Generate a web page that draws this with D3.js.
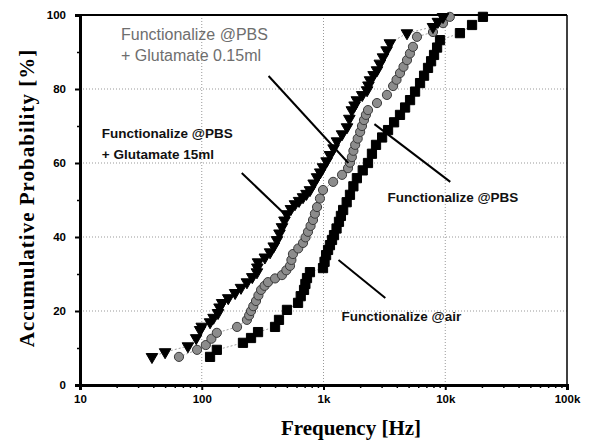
<!DOCTYPE html>
<html>
<head>
<meta charset="utf-8">
<script src="https://cdn.jsdelivr.net/npm/d3@7"></script>
<style>
  body { margin: 0; background: #fff; }
  svg { display: block; }
</style>
</head>
<body>
<svg id="chart" width="592" height="446"></svg>
<script>
// values: frequency [Hz], accumulative probability [%]
var triFreq = [39, 50, 77, 90, 97, 100, 117, 125, 136, 140, 147, 165, 188, 210, 235, 260, 284, 286, 290, 330, 364, 390, 415, 435, 456, 478, 501, 540, 583, 630, 679, 725, 774, 830, 885, 940, 991, 1060, 1130, 1210, 1290, 1420, 1560, 1630, 1710, 1800, 1880, 2080, 2280, 2340, 2410, 2580, 2750, 2900, 3080, 3300, 3510, 4850, 7930, 8700, 9590];
var triProb = [7.6, 8.9, 10.5, 12.7, 14.9, 15.8, 17.0, 18.2, 19.5, 21.0, 22.2, 23.5, 24.9, 26.3, 27.8, 29.2, 30.5, 31.8, 33.2, 34.5, 35.9, 37.5, 39.2, 41.0, 42.7, 44.5, 46.2, 47.6, 48.9, 49.8, 50.8, 51.7, 52.7, 54.5, 56.2, 57.5, 58.9, 60.5, 62.2, 64.0, 65.9, 67.8, 69.7, 72.0, 74.3, 75.6, 77.0, 78.4, 79.7, 81.0, 82.4, 83.8, 85.1, 86.9, 88.6, 90.5, 92.4, 95.1, 96.8, 98.2, 99.5];

var cirFreq = [65, 91.5, 108, 120, 133, 195, 235, 245, 254, 265, 279, 292, 307, 328, 350, 400, 456, 495, 531, 545, 561, 620, 679, 712, 746, 783, 820, 850, 885, 935, 991, 1200, 1420, 1590, 1650, 1710, 1760, 1820, 1910, 2000, 2070, 2150, 2230, 2320, 2750, 3320, 3730, 3980, 4250, 4540, 4850, 5130, 5430, 5860, 7930, 9590, 10900];
var cirProb = [7.6, 9.5, 10.8, 12.5, 14.1, 15.7, 17.6, 18.8, 20.0, 21.3, 22.7, 24.2, 25.7, 26.8, 27.8, 28.8, 29.7, 31.0, 32.2, 33.8, 35.4, 36.9, 38.4, 39.9, 41.4, 43.0, 44.6, 46.3, 48.1, 50.4, 52.7, 54.9, 56.8, 58.6, 60.1, 61.6, 63.3, 64.9, 66.6, 68.4, 70.0, 71.6, 73.0, 74.3, 76.2, 78.4, 80.8, 82.5, 84.3, 86.0, 87.8, 89.6, 91.4, 94.1, 95.4, 97.8, 99.5];

var sqFreq = [117, 133, 218, 254, 290, 400, 431, 501, 618, 650, 692, 710, 732, 774, 991, 1020, 1050, 1090, 1130, 1175, 1220, 1280, 1340, 1390, 1450, 1550, 1650, 1760, 1880, 2100, 2320, 2500, 2700, 3030, 3390, 3800, 4250, 4680, 5140, 5650, 6210, 6700, 7220, 7650, 8090, 8570, 9060, 13200, 16600, 20400];
var sqProb = [7.6, 9.5, 11.4, 12.7, 14.3, 15.7, 17.6, 20.3, 22.2, 24.0, 25.7, 27.3, 28.9, 30.5, 31.6, 33.3, 35.1, 36.5, 37.8, 39.2, 40.5, 42.3, 44.1, 45.7, 47.3, 49.4, 51.4, 53.7, 55.9, 58.0, 60.0, 62.5, 64.9, 66.9, 68.9, 71.0, 73.0, 75.0, 77.0, 79.3, 81.6, 83.6, 85.7, 87.5, 89.2, 91.2, 93.2, 95.1, 97.3, 99.5];

var xTicks = [10, 100, 1000, 10000, 100000];
var xTickLabels = ["10", "100", "1k", "10k", "100k"];
var yTicks = [0, 20, 40, 60, 80, 100];

// annotations: label lines and pointer lines in data units
var notes = [
  { lines: ["Functionalize @PBS", "+ Glutamate 0.15ml"], f: 21.7, p: 93.2, color: "#6e6e6e", weight: "normal", size: 16 },
  { lines: ["Functionalize @PBS", "+ Glutamate 15ml"], f: 15.1, p: 66.8, color: "#111", weight: "bold", size: 13.5 },
  { lines: ["Functionalize @PBS"], f: 3350, p: 49.5, color: "#111", weight: "bold", size: 13.5 },
  { lines: ["Functionalize @air"], f: 1405, p: 17.3, color: "#111", weight: "bold", size: 13.5 }
];
var pointers = [
  { f0: 354, p0: 83.5, f1: 1600, p1: 60 },
  { f0: 213, p0: 57.3, f1: 479, p1: 46.2 },
  { f0: 2620, p0: 70.5, f1: 11000, p1: 54.9 },
  { f0: 1328, p0: 33.8, f1: 3220, p1: 23.5 }
];

function drawChart() {

var svg = d3.select("#chart");
var pLeft = 80, pRight = 567, pTop = 15, pBottom = 385;

var x = d3.scaleLog().domain([10, 100000]).range([pLeft, pRight]);
var y = d3.scaleLinear().domain([0, 100]).range([pBottom, pTop]);

// grid
svg.append("g").selectAll("line")
  .data([100, 1000, 10000])
  .join("line")
    .attr("x1", d => x(d)).attr("x2", d => x(d))
    .attr("y1", pTop).attr("y2", pBottom)
    .attr("stroke", "#999").attr("stroke-width", 1).attr("stroke-dasharray", "1,2");
svg.append("g").selectAll("line")
  .data([20, 40, 60, 80])
  .join("line")
    .attr("x1", pLeft).attr("x2", pRight)
    .attr("y1", d => y(d)).attr("y2", d => y(d))
    .attr("stroke", "#999").attr("stroke-width", 1).attr("stroke-dasharray", "1,2");

// minor log ticks on x
var minor = [];
for (var dec = 10; dec < 100000; dec *= 10) {
  for (var m = 2; m <= 9; m++) minor.push(dec * m);
}

var xAxis = d3.axisBottom(x).tickValues(xTicks).tickSize(5).tickPadding(5)
  .tickFormat((d, i) => xTickLabels[i]);
var gx = svg.append("g").attr("transform", "translate(0," + pBottom + ")").call(xAxis);
svg.append("g").attr("transform", "translate(0," + pBottom + ")")
  .call(d3.axisBottom(x).tickValues(minor).tickSize(3).tickFormat(""))
  .call(g => g.select(".domain").remove())
  .selectAll("line").attr("stroke", "#000").attr("stroke-width", 1.5);

var yAxis = d3.axisLeft(y).tickValues(yTicks).tickSize(5).tickPadding(9);
var gy = svg.append("g").attr("transform", "translate(" + pLeft + ",0)").call(yAxis);
svg.append("g").attr("transform", "translate(" + pLeft + ",0)")
  .call(d3.axisLeft(y).tickValues([10, 30, 50, 70, 90]).tickSize(3).tickFormat(""))
  .call(g => g.select(".domain").remove())
  .selectAll("line").attr("stroke", "#000").attr("stroke-width", 1.5);

[gx, gy].forEach(function(g) {
  g.select(".domain").attr("stroke", "#000").attr("stroke-width", 3);
  g.selectAll(".tick line").attr("stroke", "#000").attr("stroke-width", 2);
  g.selectAll(".tick text")
    .attr("font-family", "Arial, 'Liberation Sans', sans-serif")
    .attr("font-weight", "bold").attr("font-size", "11.5px").attr("fill", "#000");
});

// top and right border
svg.append("line").attr("x1", pLeft).attr("x2", pRight).attr("y1", pTop).attr("y2", pTop)
  .attr("stroke", "#000").attr("stroke-width", 2);
svg.append("line").attr("x1", pRight).attr("x2", pRight).attr("y1", pTop).attr("y2", pBottom)
  .attr("stroke", "#000").attr("stroke-width", 1.5);

// series
var series = [
  { f: sqFreq, p: sqProb, shape: d3.symbolSquare, size: 85, fill: "#000", stroke: "#000" },
  { f: cirFreq, p: cirProb, shape: d3.symbolCircle, size: 66, fill: "#8c8c8c", stroke: "#3a3a3a" },
  { f: triFreq, p: triProb, shape: d3.symbolTriangle, size: 58, fill: "#000", stroke: "#000" }
];

var line = d3.line().x(d => x(d[0])).y(d => y(d[1]));

series.forEach(function(s) {
  var pts = s.f.map((f, i) => [f, s.p[i]]);
  svg.append("path").datum(pts)
    .attr("d", line).attr("fill", "none")
    .attr("stroke", "#888").attr("stroke-width", 0.8).attr("stroke-dasharray", "2,2");
  svg.append("g").selectAll("path")
    .data(pts)
    .join("path")
      .attr("transform", d => "translate(" + x(d[0]) + "," + y(d[1]) + ")" + (s.shape === d3.symbolTriangle ? " rotate(180)" : ""))
      .attr("d", d3.symbol().type(s.shape).size(s.size))
      .attr("fill", s.fill).attr("stroke", s.stroke).attr("stroke-width", 1);
});

// pointer lines
svg.append("g").selectAll("line")
  .data(pointers)
  .join("line")
    .attr("x1", d => x(d.f0)).attr("y1", d => y(d.p0))
    .attr("x2", d => x(d.f1)).attr("y2", d => y(d.p1))
    .attr("stroke", "#000").attr("stroke-width", 2);

// annotation labels
notes.forEach(function(n) {
  var t = svg.append("text")
    .attr("x", x(n.f)).attr("y", y(n.p))
    .attr("font-family", "Arial, 'Liberation Sans', sans-serif")
    .attr("font-size", n.size + "px").attr("font-weight", n.weight).attr("fill", n.color);
  n.lines.forEach(function(l, i) {
    t.append("tspan").attr("x", x(n.f)).attr("dy", i === 0 ? 0 : "21px").text(l);
  });
});

// axis titles
svg.append("text")
  .attr("x", 351).attr("y", 435)
  .attr("text-anchor", "middle")
  .attr("font-family", "'Liberation Serif', 'Times New Roman', serif")
  .attr("font-weight", "bold").attr("font-size", "21px")
  .text("Frequency [Hz]");
svg.append("text")
  .attr("transform", "translate(34,198) rotate(-90)")
  .attr("text-anchor", "middle")
  .attr("font-family", "'Liberation Serif', 'Times New Roman', serif")
  .attr("font-weight", "bold").attr("font-size", "21px").attr("letter-spacing", "1px")
  .text("Accumulative Probability [%]");
}

drawChart();
</script>
</body>
</html>
